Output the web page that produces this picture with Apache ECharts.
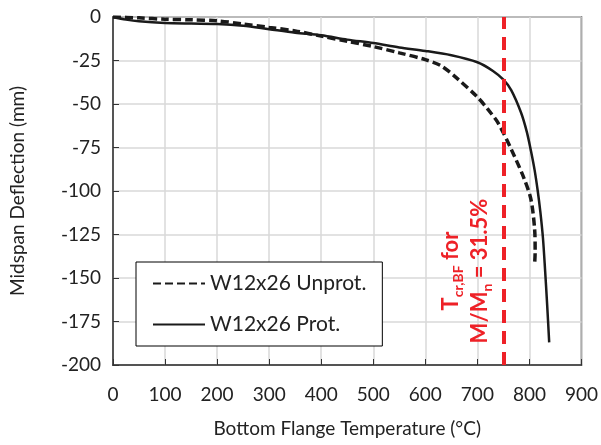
<!DOCTYPE html>
<html>
<head>
<meta charset="utf-8">
<script src="https://cdn.jsdelivr.net/npm/echarts@6/dist/echarts.min.js"></script>
<style>
  html, body { margin: 0; padding: 0; background: #fff; }
  #chart { width: 601px; height: 445px; }
</style>
</head>
<body>
<div id="chart"></div>
<script>
// unprotected beam (dashed)
const unprotTemp = [0, 50, 100, 150, 200, 250, 300, 350, 400, 450, 500, 550, 600, 630, 660, 700, 720, 740, 765, 790, 803, 810, 811, 810]
const unprotDefl = [0, -0.5, -1.3, -1.6, -2.2, -4, -6, -8, -11, -14, -17, -20.6, -24.5, -28, -35, -46, -53, -61, -76, -93, -105, -122, -135, -142]
// protected beam (solid)
const protTemp = [0, 25, 50, 100, 150, 200, 250, 300, 350, 400, 450, 500, 550, 600, 650, 700, 730, 750, 765, 784, 795, 803, 810, 816, 821, 826, 830, 834, 838]
const protDefl = [0, -1.5, -2.5, -3.5, -3.8, -4, -5, -7, -9, -10.5, -13, -15, -17.5, -19.5, -22, -26, -31, -36, -42, -55, -66, -77, -88, -100, -112, -127, -145, -165, -187]
const critTemp = 750
const seriesNames = ['W12x26 Unprot.', 'W12x26 Prot.']

const zip = (a, b) => a.map((v, i) => [v, b[i]])
const font = 'Lato, "Liberation Sans", sans-serif'
const red = '#ee2127'

let chart = echarts.init(document.getElementById('chart'))

let option = {
    animation: false,
    textStyle: { fontFamily: font },
    grid: {
        left: 112, right: 17, top: 17, bottom: 80,
        show: true,
        borderColor: '#333',
        borderWidth: 1.5
    },
    legend: {
        orient: 'vertical',
        left: 136,
        top: 262,
        padding: [11, 16, 11, 16],
        itemGap: 20,
        itemWidth: 52,
        itemHeight: 14,
        backgroundColor: '#fff',
        borderColor: '#000',
        borderWidth: 1,
        borderRadius: 0,
        itemStyle: { opacity: 0 },
        textStyle: { fontSize: 21, color: '#222', fontFamily: font },
        data: seriesNames
    },
    xAxis: {
        type: 'value',
        min: 0, max: 900, interval: 100,
        name: 'Bottom Flange Temperature (°C)',
        nameLocation: 'middle',
        nameGap: 54,
        nameTextStyle: { fontSize: 19, color: '#222' },
        axisLine: { onZero: false, lineStyle: { color: '#333', width: 1.5 } },
        axisTick: { show: true, inside: true, length: 6, lineStyle: { color: '#333' } },
        axisLabel: { fontSize: 19, color: '#222', margin: 20 },
        splitLine: { lineStyle: { color: '#d9d9d9', width: 1.5 } }
    },
    yAxis: {
        type: 'value',
        min: -200, max: 0, interval: 25,
        name: 'Midspan Deflection (mm)',
        nameLocation: 'middle',
        nameGap: 86,
        nameTextStyle: { fontSize: 19, color: '#222' },
        axisLine: { onZero: false, lineStyle: { color: '#333', width: 1.5 } },
        axisTick: { show: true, inside: true, length: 6, lineStyle: { color: '#333' } },
        axisLabel: { fontSize: 19, color: '#222', margin: 12 },
        splitLine: { lineStyle: { color: '#d9d9d9', width: 1.5 } }
    },
    series: [
        {
            name: seriesNames[0],
            type: 'line',
            data: zip(unprotTemp, unprotDefl),
            smooth: 0.3,
            symbol: 'none',
            lineStyle: { color: '#1a1a1a', width: 3.5, type: [8, 4] },
            itemStyle: { color: '#1a1a1a' },
            markLine: {
                silent: true,
                symbol: 'none',
                label: { show: false },
                lineStyle: { color: red, width: 4, type: [13, 8] },
                data: [{ xAxis: critTemp }]
            }
        },
        {
            name: seriesNames[1],
            type: 'line',
            data: zip(protTemp, protDefl),
            smooth: 0.3,
            symbol: 'none',
            lineStyle: { color: '#1a1a1a', width: 2.5 },
            itemStyle: { color: '#1a1a1a' }
        }
    ]
}
chart.setOption(option)

// red annotation next to the critical temperature line
let pos = chart.convertToPixel({ xAxisIndex: 0, yAxisIndex: 0 }, [677, -146])
chart.setOption({
    graphic: [{
        type: 'text',
        x: pos[0],
        y: pos[1],
        rotation: Math.PI / 2,
        style: {
            text: '{b|T}{s|cr,BF}{b| for}\n{b|M/M}{s|n}{b| = 31.5%}',
            align: 'center',
            verticalAlign: 'middle',
            fill: red,
            rich: {
                b: { fontSize: 22, fontWeight: 'bold', fill: red, lineHeight: 29, fontFamily: font },
                s: { fontSize: 14, fontWeight: 'bold', fill: red, lineHeight: 29, verticalAlign: 'bottom', fontFamily: font }
            }
        }
    }]
})
</script>
</body>
</html>
